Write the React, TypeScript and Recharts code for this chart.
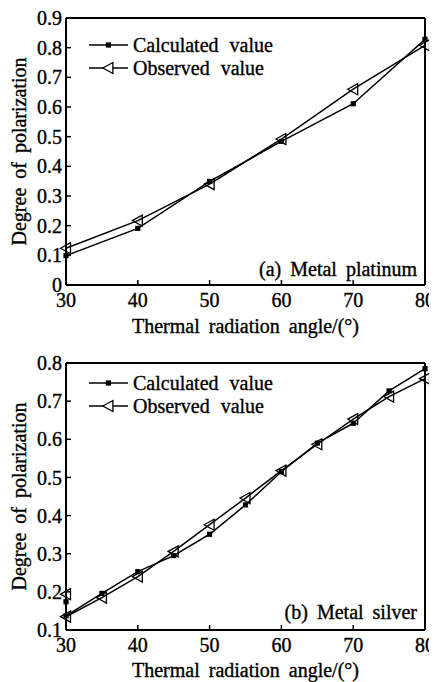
import React from "react";
import { LineChart, Line, XAxis, YAxis, ReferenceLine } from "recharts";

const anglesA = [30, 40, 50, 60, 70, 80];
const calcA = [0.099, 0.191, 0.349, 0.484, 0.611, 0.828];
const obsA = [0.124, 0.217, 0.34, 0.492, 0.66, 0.808];

const anglesB = [30, 30, 35, 40, 45, 50, 55, 60, 65, 70, 75, 80];
const calcB = [0.174, 0.137, 0.196, 0.253, 0.295, 0.351, 0.428, 0.515, 0.59, 0.642, 0.727, 0.785];
const obsB = [0.194, 0.135, 0.185, 0.24, 0.306, 0.376, 0.446, 0.518, 0.587, 0.653, 0.712, 0.759];

const xTicks = [30, 40, 50, 60, 70, 80];
const yTicksA = [0, 0.1, 0.2, 0.3, 0.4, 0.5, 0.6, 0.7, 0.8, 0.9];
const yTicksB = [0.1, 0.2, 0.3, 0.4, 0.5, 0.6, 0.7, 0.8];

const seriesNames = ["Calculated value", "Observed value"];
const xTitle = "Thermal radiation angle/(°)";
const yTitle = "Degree of polarization";

const FONT = "'Liberation Serif', 'Times New Roman', serif";
const FS = 20;

const buildRows = (xs: number[], c: number[], o: number[]) =>
  xs.map((x, i) => ({ x, calc: c[i], obs: o[i] }));

const rowsA = buildRows(anglesA, calcA, obsA);
const rowsB = buildRows(anglesB, calcB, obsB);

const SquareDot = (props: any) => {
  const { cx, cy, index } = props;
  if (cx == null || cy == null) return <g key={index} />;
  return <rect key={index} x={cx - 2.6} y={cy - 2.6} width={5.2} height={5.2} fill="#000" />;
};

const TriDot = (props: any) => {
  const { cx, cy, index } = props;
  if (cx == null || cy == null) return <g key={index} />;
  return (
    <path
      key={index}
      d={`M${cx - 5.5},${cy} L${cx + 4.5},${cy - 5.5} L${cx + 4.5},${cy + 5.5} Z`}
      fill="none"
      stroke="#000"
      strokeWidth={1.3}
    />
  );
};

const textInk = { stroke: "#000", strokeWidth: 0.35 };
const tickStyle = { fontFamily: FONT, fontSize: FS, fill: "#000", ...textInk };

const fmtY = (v: number) => (v === 0 ? "0" : v.toFixed(1));

type PanelProps = {
  rows: { x: number; calc: number; obs: number }[];
  yTicks: number[];
  yMin: number;
  yMax: number;
  height: number;
  top: number;
  plotBottom: number;
  titleOffset: number;
  legendY: number;
  note: string;
  noteY: number;
};

const Panel = ({ rows, yTicks, yMin, yMax, height, top, plotBottom, titleOffset, legendY, note, noteY }: PanelProps) => {
  const width = 429;
  const xAxisH = 50;
  const bottom = height - plotBottom - xAxisH;
  return (
    <div style={{ position: "relative", width, height }}>
      <LineChart
        width={width}
        height={height}
        data={rows}
        margin={{ top, right: 12, bottom, left: 0 }}
      >
        <XAxis
          dataKey="x"
          type="number"
          domain={[30, 80]}
          ticks={xTicks}
          interval={0}
          height={xAxisH}
          tickSize={-5}
          tickMargin={13}
          tick={tickStyle}
          axisLine={{ stroke: "#000", strokeWidth: 2 }}
          tickLine={{ stroke: "#000", strokeWidth: 1.5 }}
          label={{
            value: xTitle,
            position: "insideBottom",
            offset: titleOffset,
            style: { fontFamily: FONT, fontSize: FS, fill: "#000", wordSpacing: 4, ...textInk },
          }}
        />
        <YAxis
          type="number"
          domain={[yMin, yMax]}
          ticks={yTicks}
          interval={0}
          width={58}
          tickSize={-5}
          tickMargin={9}
          tick={tickStyle}
          tickFormatter={fmtY}
          axisLine={{ stroke: "#000", strokeWidth: 2 }}
          tickLine={{ stroke: "#000", strokeWidth: 1.5 }}
          label={{
            value: yTitle,
            angle: -90,
            position: "insideLeft",
            offset: 10.5,
            style: { textAnchor: "middle", fontFamily: FONT, fontSize: FS, fill: "#000", wordSpacing: 4, ...textInk },
          }}
        />
        <ReferenceLine y={yMax} stroke="#000" strokeWidth={2} />
        <ReferenceLine x={80} stroke="#000" strokeWidth={2} />
        <Line
          dataKey="calc"
          name={seriesNames[0]}
          stroke="#000"
          strokeWidth={1.5}
          dot={SquareDot}
          isAnimationActive={false}
        />
        <Line
          dataKey="obs"
          name={seriesNames[1]}
          stroke="#000"
          strokeWidth={1.5}
          dot={TriDot}
          isAnimationActive={false}
        />
      </LineChart>
      <svg
        width={width}
        height={height}
        style={{ position: "absolute", left: 0, top: 0, pointerEvents: "none" }}
      >
        {seriesNames.map((name, i) => {
          const cy = legendY + i * 23;
          return (
            <g key={name}>
              <line x1={81} x2={120} y1={cy} y2={cy} stroke="#000" strokeWidth={1.5} />
              {i === 0 ? (
                <rect x={100.4 - 2.6} y={cy - 2.6} width={5.2} height={5.2} fill="#000" />
              ) : (
                <path
                  d={`M${100.4 - 5.5},${cy} L${100.4 + 4.5},${cy - 5.5} L${100.4 + 4.5},${cy + 5.5} Z`}
                  fill="#fff"
                  stroke="#000"
                  strokeWidth={1.3}
                />
              )}
              <text
                x={125}
                y={cy + 7}
                fontFamily={FONT}
                fontSize={FS}
                fill="#000"
                style={{ wordSpacing: 6, ...textInk }}
              >
                {name}
              </text>
            </g>
          );
        })}
        <text
          x={409}
          y={noteY}
          textAnchor="end"
          fontFamily={FONT}
          fontSize={FS}
          fill="#000"
          style={{ wordSpacing: 4, ...textInk }}
        >
          {note}
        </text>
      </svg>
    </div>
  );
};

export default function App() {
  return (
    <div style={{ width: 429 }}>
      <style>{"html,body{overflow:hidden}body{margin:8px 8px 0 8px}"}</style>
      <Panel
        rows={rowsA}
        yTicks={yTicksA}
        yMin={0}
        yMax={0.9}
        height={330}
        top={10}
        plotBottom={277}
        titleOffset={2}
        legendY={37}
        note="(a) Metal platinum"
        noteY={268}
      />
      <Panel
        rows={rowsB}
        yTicks={yTicksB}
        yMin={0.1}
        yMax={0.8}
        height={344}
        top={25}
        plotBottom={292}
        titleOffset={3}
        legendY={45}
        note="(b) Metal silver"
        noteY={281}
      />
    </div>
  );
}
